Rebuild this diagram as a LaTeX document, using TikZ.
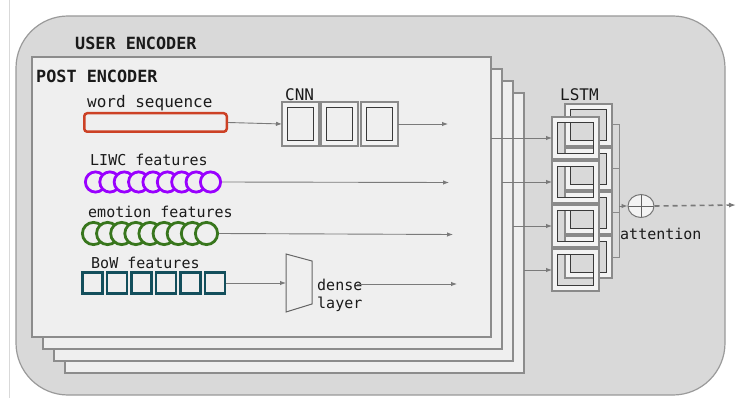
\documentclass[tikz,border=0pt]{standalone}
\usepackage{fontspec}
\setmonofont{DejaVu Sans Mono}
\usetikzlibrary{arrows.meta,shapes.geometric}

\definecolor{outerfill}{HTML}{D9D9D9}
\definecolor{framegray}{HTML}{9A9A9A}
\definecolor{postfill}{HTML}{EFEFEF}
\definecolor{postline}{HTML}{8C8C8C}
\definecolor{wordred}{HTML}{CC4125}
\definecolor{liwcpurple}{HTML}{9900FF}
\definecolor{emogreen}{HTML}{38761D}
\definecolor{bowteal}{HTML}{134F5C}
\definecolor{arrowgray}{HTML}{7A7A7A}
\definecolor{ringfill}{HTML}{F3F3F3}
\definecolor{cellgray}{HTML}{8A8A8A}
\definecolor{cellink}{HTML}{3A3A3A}
\definecolor{txt}{HTML}{1A1A1A}

\tikzset{
  lbl/.style={font=\ttfamily\fontsize{15}{15}\selectfont, inner sep=0pt, anchor=base west, text=txt},
  biglbl/.style={font=\ttfamily\fontsize{16}{16}\selectfont, inner sep=0pt, anchor=base west, text=txt},
  hdr/.style={font=\ttfamily\bfseries\fontsize{16.8}{17}\selectfont, inner sep=0pt, anchor=base west, text=txt},
  flow/.style={draw=arrowgray, line width=0.9pt, -{Latex[length=6pt,width=4.5pt]}},
  postlayer/.style={draw=postline, fill=postfill, line width=1.1pt, inner sep=0pt, outer sep=0pt},
  liwcdot/.style={circle, draw=liwcpurple, fill=postfill, line width=2.8pt, minimum size=20.2pt, inner sep=0pt},
  emodot/.style={circle, draw=emogreen, fill=postfill, line width=2.8pt, minimum size=22.2pt, inner sep=0pt},
  bowsq/.style={rectangle, draw=bowteal, fill=postfill, line width=2.6pt, minimum width=20pt, minimum height=21.5pt, inner sep=0pt},
  wordbox/.style={rectangle, rounded corners=3pt, draw=wordred, fill=postfill, line width=2.5pt, minimum width=142.5pt, minimum height=18.5pt, inner sep=0pt},
  attnode/.style={ellipse, draw=cellink!70, fill=ringfill, line width=1pt, minimum width=26pt, minimum height=23pt, inner sep=0pt,
    path picture={\draw[cellink!80, line width=0.8pt]
      (path picture bounding box.north) -- (path picture bounding box.south)
      (path picture bounding box.west) -- (path picture bounding box.east);}},
}

% a cell: light ring between an outer grey frame and an inner dark square,
% open in the middle so that whatever lies behind stays visible
% #1 name, #2 centre x, #3 centre y, #4 width, #5 height
\newcommand\ringcell[5]{%
  \fill[ringfill, even odd rule]
    (#2-#4/2,#3-#5/2) rectangle (#2+#4/2,#3+#5/2)
    (#2-#4/2+5.5,#3-#5/2+5.5) rectangle (#2+#4/2-5.5,#3+#5/2-5.5);
  \node[draw=cellgray, line width=1.6pt, minimum width=#4pt, minimum height=#5pt,
        inner sep=0pt, outer sep=0pt] (#1) at (#2,#3) {};
  \draw[cellink, line width=1pt]
    (#2-#4/2+5.5,#3-#5/2+5.5) rectangle (#2+#4/2-5.5,#3+#5/2-5.5);
}

\begin{document}
\begin{tikzpicture}[x=1pt,y=-1pt]
\useasboundingbox (0,0) rectangle (736,398);
\fill[white] (0,0) rectangle (736,398);

% thin rule along the left margin
\draw[black!15, line width=0.8pt] (9.5,0) -- (9.5,398);

% user encoder frame
\draw[draw=framegray, fill=outerfill, line width=1.2pt, rounded corners=52pt]
  (16,16) rectangle (725,395);
\node[hdr] (usertitle) at (75,50) {USER ENCODER};

% stack of post encoders, back to front
\foreach \i in {3,2,1,0}{
  \node[postlayer, minimum width=459pt, minimum height=280pt]
    (pe\i) at (261.5+11*\i,197+12*\i) {};
}
\node[hdr] (posttitle) at (36,83) {POST ENCODER};

% word sequence -> CNN
\node[biglbl] (wordlbl) at (87,108) {word sequence};
\node[wordbox] (ws) at (155.5,122.5) {};
\node[biglbl] (cnnlbl) at (285,100.7) {CNN};
\ringcell{c1}{300.5}{124}{37}{44}
\ringcell{c2}{339.5}{124}{37}{44}
\ringcell{c3}{379.5}{124}{37}{44}
\coordinate (cnnout) at (448,124);
\draw[flow] (ws.east) -- (c1.west);
\draw[flow] (c3.east) -- (cnnout);

% LIWC features
\node[lbl] (liwclbl) at (90,166) {LIWC features};
\foreach \k in {1,...,9}{
  \node[liwcdot] (liwc\k) at (95.5+14.375*\k-14.375,182) {};
}
\coordinate (liwcout) at (449,182.5);
\draw[flow] (liwc9.east) -- (liwcout);

% emotion features
\node[lbl] (emolbl) at (88,218) {emotion features};
\foreach \k in {1,...,9}{
  \node[emodot] (emo\k) at (93.5+14.125*\k-14.125,233.5) {};
}
\coordinate (emoout) at (453,234.5);
\draw[flow] (emo9.east) -- (emoout);

% bag of words -> dense layer
\node[lbl] (bowlbl) at (91,268) {BoW features};
\foreach \k in {1,...,6}{
  \node[bowsq] (bow\k) at (92.4+24.5*\k-24.5,283) {};
}
\coordinate (densetl) at (286,254);
\coordinate (densetr) at (312,261);
\coordinate (densebr) at (312,304);
\coordinate (densebl) at (286,312);
\coordinate (densein) at (286,283);
\draw[draw=black!60, fill=postfill, line width=1pt]
  (densetl) -- (densetr) -- (densebr) -- (densebl) -- cycle;
\draw[flow] (bow6.east) -- (densein);
\node[lbl] (denselbl) at (317,290) {dense};
\node[lbl] (layerlbl) at (317,308) {layer};
\coordinate (densefrom) at (357,284);
\coordinate (denseout) at (457,284);
\draw[flow] (densefrom) -- (denseout);

% LSTM: back row, then front row
\node[biglbl] (lstmlbl) at (560,101) {LSTM};
\foreach \k/\y in {1/125,2/169,3/213,4/257}{
  \ringcell{b\k}{588.5}{\y}{47}{42}
}
\coordinate (busTop) at (619,125);
\coordinate (busBot) at (619,257);
\draw[draw=cellgray, line width=1pt]
  (b1.east) -- (busTop) -- (busBot) -- (b4.east)
  (b2.east) -- (b2.east -| busTop)
  (b3.east) -- (b3.east -| busTop);
\foreach \k/\y in {1/138,2/182,3/226,4/270}{
  \ringcell{f\k}{575.5}{\y}{47}{42}
}

% post encoders feed the LSTM
\draw[flow] (pe0.east |- f1.west) -- (f1.west);
\draw[flow] (pe1.east |- f2.west) -- (f2.west);
\draw[flow] (pe2.east |- f3.west) -- (f3.west);
\draw[flow] (pe3.east |- f4.west) -- (f4.west);

% attention
\node[attnode] (att) at (641,206) {};
\coordinate (busMid) at (619,206);
\draw[flow] (busMid) -- (att.west);
\node[lbl] (attlbl) at (620,239) {attention};
\coordinate (userout) at (736,205);
\draw[draw=arrowgray, line width=1.6pt, dash pattern=on 5pt off 4pt,
      -{Latex[length=7pt,width=5pt]}] (att.east) -- (userout);
\end{tikzpicture}
\end{document}
